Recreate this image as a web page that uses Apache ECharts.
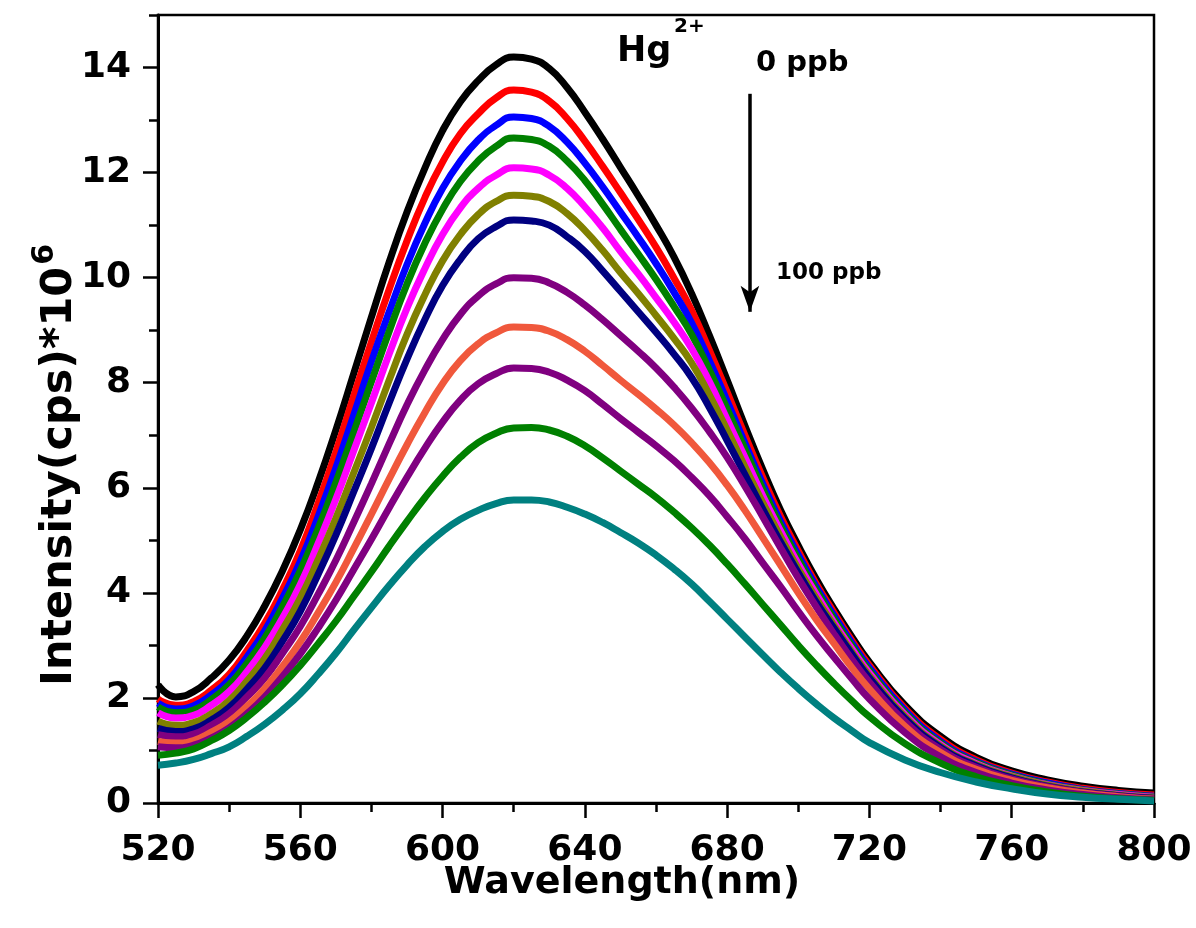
<!DOCTYPE html>
<html>
<head>
<meta charset="utf-8">
<script src="https://cdn.jsdelivr.net/npm/echarts@6/dist/echarts.min.js"></script>
<style>html,body{margin:0;padding:0;background:#fff}#c{width:1196px;height:928px}</style>
</head>
<body>
<div id="c"></div>
<script>
var wavelength = [520,525,530,535,540,545,550,555,560,565,570,575,580,585,590,595,600,605,610,615,620,625,630,635,640,645,650,655,660,665,670,675,680,685,690,695,700,705,710,715,720,730,740,750,760,770,780,790,800];
var s0ppb   = [2.25,2.02,2.12,2.38,2.72,3.18,3.75,4.42,5.2,6.1,7.1,8.17,9.25,10.3,11.25,12.08,12.8,13.35,13.75,14.05,14.2,14.16,13.98,13.62,13.15,12.64,12.1,11.56,11.0,10.4,9.7,8.9,8.05,7.18,6.35,5.58,4.9,4.27,3.7,3.17,2.68,1.86,1.27,0.87,0.61,0.44,0.32,0.24,0.19];
var sRed    = [1.98,1.86,1.93,2.15,2.45,2.9,3.42,4.06,4.8,5.7,6.68,7.74,8.78,9.78,10.7,11.52,12.2,12.74,13.12,13.42,13.57,13.53,13.36,13.03,12.6,12.12,11.62,11.11,10.58,10.0,9.38,8.62,7.82,7.0,6.2,5.46,4.8,4.18,3.63,3.1,2.62,1.8,1.21,0.82,0.57,0.4,0.28,0.2,0.15];
var sBlue   = [1.9,1.79,1.85,2.06,2.35,2.78,3.28,3.9,4.6,5.45,6.38,7.38,8.4,9.35,10.25,11.03,11.7,12.22,12.62,12.9,13.06,13.03,12.88,12.58,12.18,11.73,11.25,10.77,10.27,9.73,9.14,8.42,7.65,6.85,6.08,5.36,4.72,4.12,3.57,3.05,2.57,1.76,1.17,0.79,0.55,0.38,0.26,0.18,0.13];
var sGreen  = [1.83,1.72,1.77,1.97,2.25,2.66,3.14,3.74,4.42,5.22,6.1,7.05,8.02,8.98,9.88,10.65,11.3,11.83,12.22,12.5,12.66,12.63,12.5,12.22,11.85,11.4,10.92,10.45,9.97,9.46,8.92,8.24,7.5,6.74,5.98,5.28,4.64,4.06,3.51,3.0,2.52,1.72,1.14,0.77,0.53,0.36,0.25,0.17,0.12];
var sMagenta= [1.72,1.62,1.67,1.86,2.12,2.5,2.96,3.52,4.16,4.94,5.78,6.7,7.62,8.55,9.42,10.17,10.82,11.33,11.7,11.95,12.09,12.07,11.95,11.7,11.35,10.95,10.5,10.07,9.62,9.16,8.65,8.02,7.3,6.58,5.85,5.18,4.55,3.98,3.44,2.94,2.47,1.68,1.11,0.75,0.51,0.35,0.24,0.16,0.11];
var sOlive  = [1.56,1.48,1.53,1.7,1.95,2.32,2.75,3.3,3.9,4.63,5.42,6.28,7.15,8.05,8.92,9.67,10.32,10.82,11.2,11.45,11.57,11.55,11.45,11.22,10.9,10.52,10.1,9.7,9.28,8.85,8.38,7.77,7.1,6.4,5.72,5.07,4.46,3.9,3.38,2.88,2.42,1.64,1.08,0.73,0.5,0.34,0.23,0.15,0.1];
var sNavy   = [1.42,1.36,1.41,1.58,1.82,2.17,2.57,3.08,3.65,4.35,5.1,5.92,6.75,7.62,8.45,9.2,9.85,10.35,10.74,10.97,11.1,11.08,11.0,10.78,10.5,10.13,9.74,9.35,8.96,8.55,8.1,7.53,6.9,6.25,5.6,4.97,4.38,3.83,3.33,2.84,2.38,1.61,1.06,0.71,0.48,0.32,0.21,0.14,0.09];
var sPurple = [1.3,1.26,1.31,1.48,1.7,2.02,2.38,2.85,3.36,3.97,4.62,5.34,6.08,6.84,7.58,8.24,8.82,9.3,9.65,9.88,10.0,9.99,9.9,9.72,9.48,9.2,8.9,8.6,8.28,7.92,7.52,7.07,6.58,6.03,5.45,4.86,4.28,3.74,3.22,2.74,2.3,1.55,1.02,0.68,0.46,0.31,0.2,0.13,0.08];
var sCoral  = [1.17,1.14,1.19,1.35,1.55,1.84,2.18,2.6,3.07,3.62,4.2,4.84,5.5,6.17,6.82,7.43,7.98,8.42,8.74,8.95,9.06,9.05,8.98,8.82,8.6,8.33,8.05,7.78,7.5,7.2,6.86,6.48,6.05,5.57,5.05,4.53,4.0,3.5,3.04,2.58,2.17,1.46,0.96,0.64,0.43,0.29,0.19,0.12,0.07];
var sPurple2= [1.07,1.05,1.1,1.24,1.43,1.7,2.02,2.41,2.84,3.33,3.86,4.44,5.02,5.62,6.2,6.75,7.25,7.67,7.98,8.17,8.28,8.27,8.2,8.05,7.85,7.59,7.32,7.06,6.8,6.52,6.2,5.85,5.45,5.03,4.57,4.12,3.65,3.2,2.78,2.37,1.98,1.34,0.88,0.58,0.38,0.25,0.16,0.1,0.06];
var sGreen2 = [0.91,0.95,1.03,1.19,1.38,1.63,1.92,2.25,2.62,3.03,3.46,3.93,4.4,4.89,5.36,5.81,6.22,6.58,6.86,7.04,7.14,7.15,7.1,6.98,6.8,6.57,6.32,6.07,5.82,5.54,5.24,4.91,4.55,4.17,3.78,3.39,3.0,2.63,2.28,1.95,1.64,1.13,0.76,0.5,0.33,0.21,0.13,0.08,0.05];
var s100ppb = [0.72,0.76,0.83,0.94,1.07,1.27,1.5,1.77,2.08,2.45,2.85,3.29,3.72,4.14,4.53,4.88,5.17,5.4,5.57,5.7,5.77,5.77,5.73,5.63,5.5,5.34,5.15,4.95,4.72,4.46,4.17,3.84,3.5,3.16,2.82,2.49,2.18,1.89,1.62,1.38,1.15,0.82,0.58,0.4,0.27,0.17,0.11,0.07,0.04];

var seriesValues = [s0ppb,sRed,sBlue,sGreen,sMagenta,sOlive,sNavy,sPurple,sCoral,sPurple2,sGreen2,s100ppb];
var seriesColors = ['#000000','#ff0000','#0000ff','#008000','#ff00ff','#808000','#000080','#800080','#f0583c','#800080','#008000','#008080'];
var xTicks = [520,560,600,640,680,720,760,800];
var yTicks = [0,2,4,6,8,10,12,14];
var arrowStart = [686.4, 13.5], arrowEnd = [686.4, 9.35];

var FONT = 'DejaVu Sans';
var chart = echarts.init(document.getElementById('c'));

var series = seriesValues.map(function(vals, i){
  return {
    type:'line', name:'s'+i, showSymbol:false, symbol:'none', smooth:0.5,
    lineStyle:{color:seriesColors[i], width:7}, itemStyle:{color:seriesColors[i]},
    data: wavelength.map(function(w,j){return [w, vals[j]];}),
    z: 2, silent:true, animation:false
  };
});
series[0].markLine = {
  silent:true, symbol:['none','arrow'], symbolSize:[14,26], animation:false,
  label:{show:false},
  lineStyle:{color:'#000', width:3.5, type:'solid'},
  data:[[{coord:arrowStart},{coord:arrowEnd}]]
};

var option = {
  backgroundColor:'#fff',
  animation:false,
  grid:{left:158, right:42, top:15, bottom:125, show:true, borderColor:'#000', borderWidth:2.5, backgroundColor:'transparent'},
  xAxis:[{
    type:'value', min:520, max:800, interval:40,
    axisLine:{show:true, onZero:false, lineStyle:{color:'#000', width:3}},
    axisTick:{show:true, length:15, lineStyle:{color:'#000', width:2.5}},
    minorTick:{show:true, splitNumber:2, length:9, lineStyle:{color:'#000', width:2.5}},
    splitLine:{show:false},
    axisLabel:{margin:30, color:'#000', fontFamily:FONT, fontWeight:'bold', fontSize:36,
      formatter:function(v){return xTicks.indexOf(v)>=0? String(v):'';}}
  }],
  yAxis:[{
    type:'value', min:0, max:15, interval:2,
    axisLine:{show:true, onZero:false, lineStyle:{color:'#000', width:3}},
    axisTick:{show:true, length:15, lineStyle:{color:'#000', width:2.5}},
    splitLine:{show:false},
    axisLabel:{margin:27, color:'#000', fontFamily:FONT, fontWeight:'bold', fontSize:36, showMaxLabel:false,
      formatter:function(v){return yTicks.indexOf(v)>=0? String(v):'';}}
  },{
    type:'value', min:0, max:15, interval:1, position:'left',
    axisLine:{show:false}, axisLabel:{show:false}, splitLine:{show:false},
    axisTick:{show:true, length:9, lineStyle:{color:'#000', width:2.5}}
  }],
  graphic:[
    {type:'text', x:622, y:883, style:{text:'Wavelength(nm)', fill:'#000', font:'bold 38px "DejaVu Sans"', align:'center', verticalAlign:'middle'}},
    {type:'text', x:60, y:465, rotation:Math.PI/2,
      style:{text:'{a|Intensity(cps)*10}{b|6}', align:'center', verticalAlign:'middle',
        rich:{a:{fill:'#000', fontFamily:FONT, fontWeight:'bold', fontSize:43},
              b:{fill:'#000', fontFamily:FONT, fontWeight:'bold', fontSize:30, padding:[0,0,30,2]}}}},
    {type:'text', left:617, top:34, style:{text:'Hg', fill:'#000', font:'bold 35px "DejaVu Sans"'}},
    {type:'text', left:674, top:17, style:{text:'2+', fill:'#000', font:'bold 20px "DejaVu Sans"'}},
    {type:'text', left:756, top:49, style:{text:'0 ppb', fill:'#000', font:'bold 29px "DejaVu Sans"'}},
    {type:'text', left:776, top:262, style:{text:'100 ppb', fill:'#000', font:'bold 23px "DejaVu Sans"'}}
  ],
  series: series
};
chart.setOption(option);
</script>
</body>
</html>
